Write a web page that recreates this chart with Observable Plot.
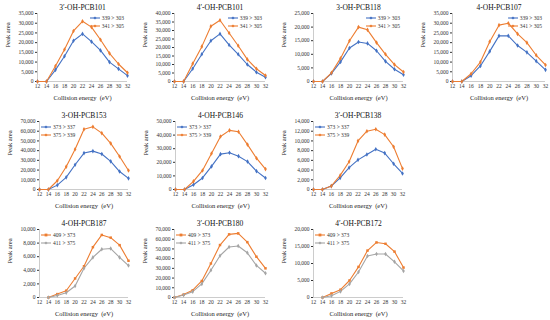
<!DOCTYPE html>
<html>
<head>
<meta charset="utf-8">
<script src="https://cdn.jsdelivr.net/npm/d3@7"></script>
<script src="https://cdn.jsdelivr.net/npm/@observablehq/plot@0.6"></script>
<style>
  body { margin: 0; background: #fff; }
  #chart { position: relative; width: 550px; height: 320px; overflow: hidden; font-family: "Liberation Serif", "Times New Roman", serif; }
  #chart svg { position: absolute; }
  .legend { position: absolute; font-size: 5.5px; color: #333; line-height: 8px; }
  .legend .item { display: flex; align-items: center; white-space: nowrap; }
  .legend svg { position: static !important; margin-right: 2px; }
</style>
</head>
<body>
<div id="chart"></div>
<script>
// ---- data ----
const energies = [12, 14, 16, 18, 20, 22, 24, 26, 28, 30, 32];
const titles = ["3\u2032-OH-PCB101", "4\u2032-OH-PCB101", "3-OH-PCB118", "4-OH-PCB107",
                "3-OH-PCB153", "4-OH-PCB146", "3\u2032-OH-PCB138",
                "4-OH-PCB187", "3\u2032-OH-PCB180", "4\u2032-OH-PCB172"];
const yMax  = [35000, 40000, 25000, 35000, 70000, 50000, 14000, 10000, 70000, 20000];
const yStep = [5000, 5000, 5000, 5000, 10000, 10000, 2000, 2000, 10000, 5000];
const labelsA = ["339 > 303", "339 > 303", "339 > 303", "339 > 303", "373 > 337", "373 > 337", "373 > 337", "409 > 373", "409 > 373", "409 > 373"];
const labelsB = ["341 > 305", "341 > 305", "341 > 305", "341 > 305", "375 > 339", "375 > 339", "375 > 339", "411 > 375", "411 > 375", "411 > 375"];
const seriesA = [
  [0, 0, 6000, 13000, 21000, 24500, 20500, 16000, 10000, 6500, 3000],
  [0, 0, 7500, 16000, 24000, 28000, 21500, 16000, 10000, 5500, 2500],
  [0, 0, 3000, 7200, 12300, 14500, 14000, 11300, 7400, 4500, 2500],
  [0, 0, 3000, 8000, 15500, 23500, 23500, 18500, 15000, 10500, 6000],
  [0, 0, 4500, 12500, 25500, 37500, 39500, 36500, 29000, 18500, 11500],
  [0, 0, 3500, 8500, 17000, 26000, 27000, 24500, 20500, 13500, 8500],
  [0, 0, 700, 2400, 4500, 6100, 7200, 8300, 7500, 5300, 3300],
  [null, 0, 500, 1000, 2800, 4600, 7400, 9200, 8800, 7700, 5400],
  [0, 3000, 7500, 17000, 35000, 54000, 65000, 66000, 57000, 42000, 30000],
  [null, 0, 1200, 2300, 5000, 9000, 13800, 16200, 15800, 13500, 8800]
];
const seriesB = [
  [0, 0, 8000, 16500, 26000, 31000, 28000, 21500, 14500, 9000, 4500],
  [0, 0, 10500, 20500, 32500, 36000, 28500, 21000, 13000, 7500, 3500],
  [0, 0, 3200, 8500, 15000, 20000, 19000, 14300, 10000, 6200, 3500],
  [0, 0, 4000, 10000, 20500, 29000, 30000, 24500, 20000, 13500, 8500],
  [0, 0, 9000, 23500, 41500, 62000, 64500, 58000, 47500, 34000, 19500],
  [0, 0, 6000, 14000, 26500, 39000, 43500, 42500, 33000, 23000, 15000],
  [0, 0, 700, 2900, 5700, 10000, 12000, 12400, 11300, 8800, 4300],
  [null, 0, 300, 700, 1700, 4300, 5900, 7100, 7200, 5900, 4700],
  [0, 2500, 6000, 14000, 28000, 43000, 52000, 53000, 46000, 33000, 25000],
  [null, 0, 500, 1800, 4000, 7500, 12200, 12800, 12800, 10500, 7800]
];

// ---- layout (plot frame in page px: left, right, top, bottom) ----
const layout = [
  [37, 127, 13, 81], [174, 265, 13, 81], [313, 403, 13, 81], [452, 545, 13, 81],
  [39, 128, 121, 189], [175, 265, 121, 189], [313, 402, 121, 189],
  [39, 128, 229, 297], [174, 265, 229, 297], [313, 403, 229, 297]
];
const BLUE = "#4472C4", ORANGE = "#ED7D31", GRAY = "#A5A5A5";

const chart = document.getElementById("chart");

function legendSwatch(color, symbol) {
  const ns = "http://www.w3.org/2000/svg";
  const s = document.createElementNS(ns, "svg");
  s.setAttribute("width", 10); s.setAttribute("height", 6);
  const l = document.createElementNS(ns, "line");
  l.setAttribute("x1", 0); l.setAttribute("x2", 10); l.setAttribute("y1", 3); l.setAttribute("y2", 3);
  l.setAttribute("stroke", color); l.setAttribute("stroke-width", 1.1);
  s.appendChild(l);
  let m;
  if (symbol === "square") {
    m = document.createElementNS(ns, "rect");
    m.setAttribute("x", 3.6); m.setAttribute("y", 1.6); m.setAttribute("width", 2.8); m.setAttribute("height", 2.8);
  } else {
    m = document.createElementNS(ns, "path");
    m.setAttribute("d", "M5,1.4L6.6,3L5,4.6L3.4,3Z");
  }
  m.setAttribute("fill", color);
  s.appendChild(m);
  return s;
}

titles.forEach((title, i) => {
  const [L, R, T, B] = layout[i];
  const ml = 36, mr = 5, mt = 14, mb = 23;
  const row3 = i >= 7;
  const colA = row3 ? ORANGE : BLUE;
  const colB = row3 ? GRAY : ORANGE;
  const symA = row3 ? "square" : "diamond";
  const symB = "diamond";
  const dA = [], dB = [];
  energies.forEach((e, k) => {
    if (seriesA[i][k] != null) dA.push({x: e, y: seriesA[i][k]});
    if (seriesB[i][k] != null) dB.push({x: e, y: seriesB[i][k]});
  });
  const svg = Plot.plot({
    width: R - L + ml + mr,
    height: B - T + mt + mb,
    marginLeft: ml, marginRight: mr, marginTop: mt, marginBottom: mb,
    style: {fontFamily: "'Liberation Serif', 'Times New Roman', serif", fontSize: "5.5px", color: "#333", background: "transparent", overflow: "visible"},
    x: {domain: [energies[0], energies[energies.length - 1]], ticks: energies, tickSize: 0, tickPadding: 3, label: null},
    y: {domain: [0, yMax[i]], ticks: d3.range(0, yMax[i] + 1, yStep[i]), tickFormat: d3.format(","), tickSize: 2, tickPadding: 2, label: null},
    marks: [
      Plot.ruleY([0], {stroke: "#bfbfbf", strokeWidth: 0.8}),
      Plot.ruleX([energies[0]], {stroke: "#bfbfbf", strokeWidth: 0.8}),
      Plot.line(dA, {x: "x", y: "y", stroke: colA, strokeWidth: 1.1}),
      Plot.line(dB, {x: "x", y: "y", stroke: colB, strokeWidth: 1.1}),
      Plot.dot(dA, {x: "x", y: "y", fill: colA, symbol: symA, r: 1.4}),
      Plot.dot(dB, {x: "x", y: "y", fill: colB, symbol: symB, r: 1.4}),
      Plot.text([title], {frameAnchor: "top", dy: -4, lineAnchor: "bottom", text: d => d, fontSize: 7.5, fill: "#111"}),
      Plot.text(["Collision energy  (eV)"], {frameAnchor: "bottom", dy: 16, lineAnchor: "middle", text: d => d, fontSize: 6.5, fill: "#222"}),
      Plot.text(["Peak area"], {frameAnchor: "left", dx: -30, rotate: -90, text: d => d, fontSize: 6.5, fill: "#222"})
    ]
  });
  svg.style.left = (L - ml) + "px";
  svg.style.top = (T - mt) + "px";
  chart.appendChild(svg);

  // legend
  const lg = document.createElement("div");
  lg.className = "legend";
  if (i < 4) { lg.style.right = (550 - R + 3) + "px"; lg.style.top = (T + 1) + "px"; }
  else { lg.style.left = (L + 2) + "px"; lg.style.top = (T + 2) + "px"; }
  [[labelsA[i], colA, symA], [labelsB[i], colB, symB]].forEach(([lab, c, s]) => {
    const it = document.createElement("div");
    it.className = "item";
    it.appendChild(legendSwatch(c, s));
    const t = document.createElement("span");
    t.textContent = lab;
    it.appendChild(t);
    lg.appendChild(it);
  });
  chart.appendChild(lg);
});
</script>
</body>
</html>
